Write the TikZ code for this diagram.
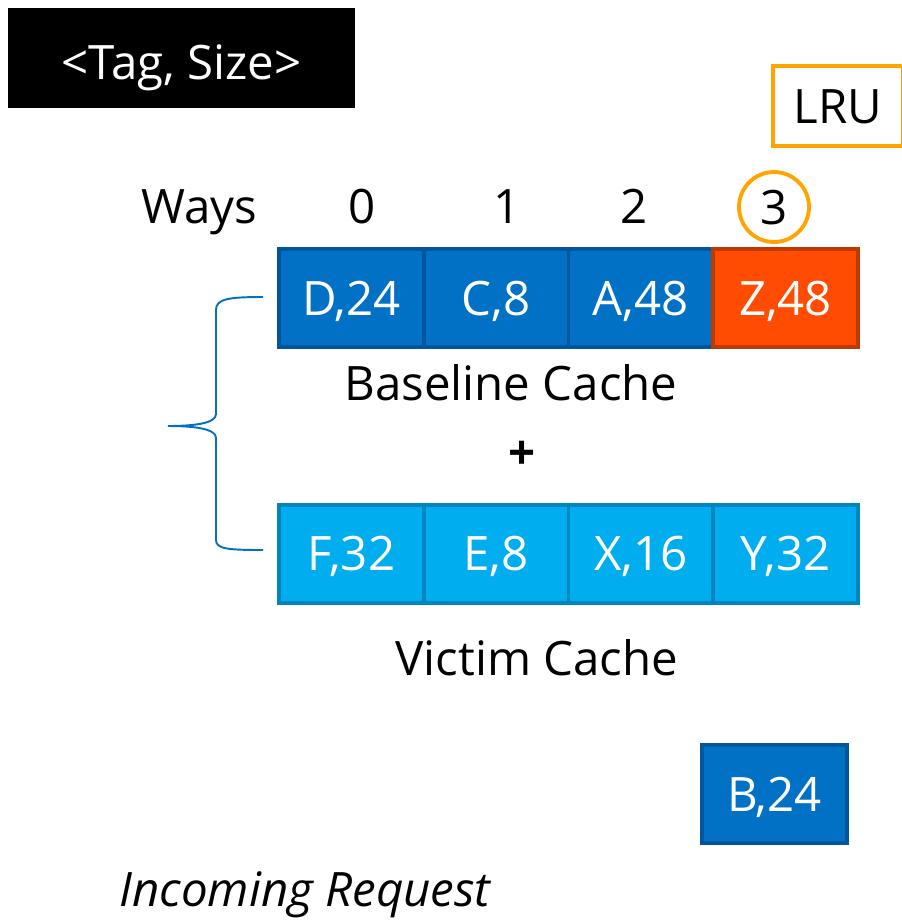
\documentclass[tikz,border=0pt]{standalone}
\usepackage{fontspec}
\setmainfont{Open Sans}
\usepackage{tikz}
\usetikzlibrary{positioning}
\definecolor{cbase}{HTML}{0071C5}
\definecolor{cbaseborder}{HTML}{00569C}
\definecolor{cvict}{HTML}{00AEEF}
\definecolor{cvictborder}{HTML}{0085BE}
\definecolor{clru}{HTML}{FF4C00}
\definecolor{clruborder}{HTML}{C03A00}
\definecolor{cmark}{HTML}{FFA400}

\begin{document}
\begin{tikzpicture}[
    x=0.02cm, y=-0.02cm,
    txt/.style={font=\fontsize{27}{32}\selectfont, inner sep=0pt},
    label/.style={txt, anchor=base},
    capbox/.style={txt, text height=0.68cm, text depth=0pt},
    cell/.style={capbox, text=white, line width=2.2pt, outer sep=0pt,
                 minimum width=2.895cm, minimum height=1.96cm},
    bcell/.style={cell, draw=cbaseborder, fill=cbase},
    lcell/.style={cell, draw=clruborder, fill=clru},
    vcell/.style={cell, draw=cvictborder, fill=cvict},
    brace/.style={draw=cbase, line width=1.1pt}
]
\useasboundingbox (0,0) rectangle (902,920);
% legend and marker
\node[txt, fill=black, text=white, text height=0.86cm, text depth=0pt,
      minimum width=6.94cm, minimum height=2cm] (key) at (181.5,58) {<Tag, Size>};
\node[capbox, draw=cmark, line width=2.2pt, minimum width=2.6cm, minimum height=1.6cm] (lru) at (838,106) {LRU};
% way numbers
\node[label] (ways) at (199,223) {Ways};
\node[label] (w0) at (362,223) {0};
\node[label] (w1) at (507,223) {1};
\node[label] (w2) at (634,223) {2};
\node[capbox, draw=cmark, circle, line width=2.2pt, minimum size=1.4cm] (w3) at (774,207) {3};
% baseline cache
\node[bcell] (d24) at (351.4,298) {D,24};
\node[bcell, right=0pt of d24] (c8) {C,8};
\node[bcell, right=0pt of c8] (a48) {A,48};
\node[lcell, right=0pt of a48] (z48) {Z,48};
\node[label] (basecap) at (511,400) {Baseline Cache};
\node[txt, font=\fontsize{27}{32}\selectfont\bfseries] (plus) at (522,455) {+};
% victim cache
\node[vcell, below=3.16cm of d24] (f32) {F,32};
\node[vcell, right=0pt of f32] (e8) {E,8};
\node[vcell, right=0pt of e8] (x16) {X,16};
\node[vcell, right=0pt of x16] (y32) {Y,32};
\node[label] (victcap) at (537,675) {Victim Cache};
% request
\node[bcell] (b24) at (774.5,794) {B,24};
\node[label, font=\fontsize{27}{32}\selectfont\itshape] (req) at (305,906) {Incoming Request};
% brace over both caches
\draw[brace] (263,297) .. controls (228,297) and (216,299) .. (216,310)
    -- (216,414) .. controls (216,423) and (196,426) .. (168,426)
    .. controls (196,426) and (216,429) .. (216,438)
    -- (216,540) .. controls (216,549) and (228,550) .. (263,550);
\end{tikzpicture}
\end{document}
